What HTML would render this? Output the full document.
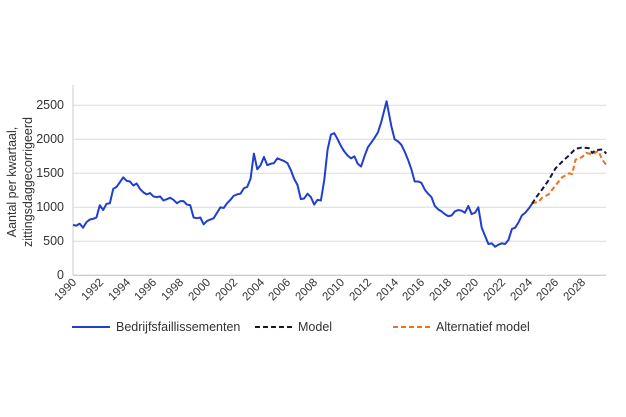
<!DOCTYPE html>
<html><head><meta charset="utf-8"><style>
body{margin:0;background:#fff;}
svg{display:block;font-family:"Liberation Sans",sans-serif;}
</style></head><body>
<svg width="626" height="417" viewBox="0 0 626 417">
<g stroke="#dcdcdc" stroke-width="1">
<line x1="73" y1="105.3" x2="606" y2="105.3"/>
<line x1="73" y1="139.3" x2="606" y2="139.3"/>
<line x1="73" y1="173.3" x2="606" y2="173.3"/>
<line x1="73" y1="207.3" x2="606" y2="207.3"/>
<line x1="73" y1="241.3" x2="606" y2="241.3"/>
<line x1="73" y1="275.3" x2="606" y2="275.3" stroke="#bbb"/>
<line x1="73" y1="85" x2="73" y2="275.3" stroke="#ccc"/>
</g>
<g font-size="12.5" fill="#333" text-anchor="end">
<text x="64" y="109">2500</text><text x="64" y="143">2000</text><text x="64" y="177">1500</text>
<text x="64" y="211">1000</text><text x="64" y="245">500</text><text x="64" y="279">0</text>
</g>
<g font-size="12.5" fill="#333" text-anchor="middle">
<text transform="translate(16,182) rotate(-90)">Aantal per kwartaal,</text>
<text transform="translate(32,182) rotate(-90)">zittingsdaggecorrigeerd</text>
</g>
<g font-size="11.5" fill="#333" text-anchor="end">
<text transform="translate(77,283) rotate(-45)">1990</text>
<text transform="translate(104,283) rotate(-45)">1992</text>
<text transform="translate(131,283) rotate(-45)">1994</text>
<text transform="translate(157,283) rotate(-45)">1996</text>
<text transform="translate(184,283) rotate(-45)">1998</text>
<text transform="translate(211,283) rotate(-45)">2000</text>
<text transform="translate(238,283) rotate(-45)">2002</text>
<text transform="translate(265,283) rotate(-45)">2004</text>
<text transform="translate(291,283) rotate(-45)">2006</text>
<text transform="translate(318,283) rotate(-45)">2008</text>
<text transform="translate(345,283) rotate(-45)">2010</text>
<text transform="translate(372,283) rotate(-45)">2012</text>
<text transform="translate(399,283) rotate(-45)">2014</text>
<text transform="translate(425,283) rotate(-45)">2016</text>
<text transform="translate(452,283) rotate(-45)">2018</text>
<text transform="translate(479,283) rotate(-45)">2020</text>
<text transform="translate(506,283) rotate(-45)">2022</text>
<text transform="translate(533,283) rotate(-45)">2024</text>
<text transform="translate(559,283) rotate(-45)">2026</text>
<text transform="translate(586,283) rotate(-45)">2028</text>
</g>
<g transform="matrix(13.4,0,0,-0.068,-26593,275.3)" fill="none">
<polyline vector-effect="non-scaling-stroke" stroke="#1f3fcf" stroke-width="2" stroke-linejoin="round" points="1990,740 1990.25,730 1990.5,760 1990.75,700 1991,780 1991.25,820 1991.5,830 1991.75,850 1992,1030 1992.25,960 1992.5,1050 1992.75,1060 1993,1270 1993.25,1300 1993.5,1370 1993.75,1440 1994,1390 1994.25,1380 1994.5,1320 1994.75,1350 1995,1270 1995.25,1220 1995.5,1190 1995.75,1210 1996,1160 1996.25,1150 1996.5,1160 1996.75,1100 1997,1120 1997.25,1140 1997.5,1110 1997.75,1060 1998,1090 1998.25,1090 1998.5,1040 1998.75,1030 1999,850 1999.25,840 1999.5,850 1999.75,750 2000,800 2000.25,820 2000.5,840 2000.75,920 2001,1000 2001.25,990 2001.5,1060 2001.75,1110 2002,1170 2002.25,1190 2002.5,1200 2002.75,1280 2003,1300 2003.25,1420 2003.5,1790 2003.75,1560 2004,1620 2004.25,1740 2004.5,1620 2004.75,1640 2005,1650 2005.25,1720 2005.5,1700 2005.75,1680 2006,1650 2006.25,1550 2006.5,1420 2006.75,1330 2007,1120 2007.25,1130 2007.5,1200 2007.75,1150 2008,1040 2008.25,1110 2008.5,1100 2008.75,1400 2009,1850 2009.25,2070 2009.5,2090 2009.75,2000 2010,1900 2010.25,1820 2010.5,1760 2010.75,1720 2011,1750 2011.25,1640 2011.5,1600 2011.75,1750 2012,1880 2012.25,1950 2012.5,2020 2012.75,2100 2013,2250 2013.4,2560 2013.75,2200 2014,2000 2014.25,1970 2014.5,1920 2014.75,1820 2015,1700 2015.25,1560 2015.5,1380 2015.75,1380 2016,1360 2016.25,1260 2016.5,1200 2016.75,1150 2017,1020 2017.25,970 2017.5,940 2017.75,900 2018,870 2018.25,880 2018.5,940 2018.75,960 2019,950 2019.25,920 2019.5,1020 2019.75,900 2020,920 2020.25,1000 2020.5,700 2020.75,580 2021,460 2021.25,470 2021.5,420 2021.75,450 2022,470 2022.25,460 2022.5,520 2022.75,680 2023,700 2023.25,780 2023.5,880 2023.75,920 2024,980 2024.25,1050"/>
<polyline vector-effect="non-scaling-stroke" stroke="#f07020" stroke-width="2" stroke-dasharray="5,3" points="2024.25,1060 2024.75,1080 2025,1140 2025.5,1190 2026,1320 2026.5,1440 2027,1500 2027.25,1490 2027.5,1700 2028,1740 2028.3,1800 2028.75,1780 2029.2,1830 2029.5,1700 2029.8,1620"/>
<polyline vector-effect="non-scaling-stroke" stroke="#141640" stroke-width="2" stroke-dasharray="5,3" points="2024.25,1050 2024.5,1130 2025,1260 2025.5,1400 2026,1570 2026.5,1670 2027,1760 2027.5,1860 2028,1880 2028.5,1870 2028.75,1800 2029,1840 2029.5,1850 2029.8,1790"/>
</g>
<g font-size="12.5" fill="#333">
<line x1="72" y1="327" x2="110" y2="327" stroke="#1f3fcf" stroke-width="2"/>
<text x="116" y="331">Bedrijfsfaillissementen</text>
<line x1="255" y1="327" x2="293" y2="327" stroke="#141640" stroke-width="2" stroke-dasharray="5,3"/>
<text x="298" y="331">Model</text>
<line x1="393" y1="327" x2="432" y2="327" stroke="#f07020" stroke-width="2" stroke-dasharray="5,3"/>
<text x="436" y="331">Alternatief model</text>
</g>
</svg>
</body></html>
